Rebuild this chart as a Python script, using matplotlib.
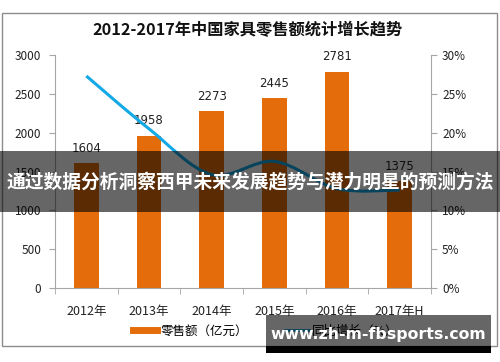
import matplotlib
matplotlib.use("Agg")
import matplotlib.pyplot as plt
import numpy as np
from matplotlib.path import Path
from matplotlib.patches import PathPatch, Rectangle
from matplotlib.lines import Line2D
from matplotlib.ticker import FixedLocator, PercentFormatter

plt.rcParams['font.family'] = ['Noto Sans CJK SC', 'DejaVu Sans']

# data
years = ['2012年', '2013年', '2014年', '2015年', '2016年', '2017年H']
retail_sales = [1604, 1958, 2273, 2445, 2781, 1375]          # 亿元
growth_rate = [27.3, 20.5, 14.6, 16.3, 12.8, 12.6]            # %

title = '2012-2017年中国家具零售额统计增长趋势'
banner_text = '通过数据分析洞察西甲未来发展趋势与潜力明星的预测方法'
site_text = 'www.zh-m-fbsports.com'

bar_color = '#E46C0A'
line_color = '#12A9E6'
axis_gray = '#A6A6A6'

fig = plt.figure(figsize=(5, 3.62), dpi=100)
fig.patch.set_facecolor('white')

# outer chart frame
fig.patches.append(Rectangle((0.004, 1 - 346 / 362), 0.99, (346 - 13) / 362,
                             transform=fig.transFigure, fill=False,
                             edgecolor='#8C8C8C', linewidth=1.0, zorder=0))

ax = fig.add_axes([0.11, 0.2044, 0.752, 0.6436])
x = np.arange(len(years))
bars = ax.bar(x, retail_sales, width=0.39, color=bar_color, zorder=2)
for xi, v in zip(x, retail_sales):
    ax.text(xi, v + 110, str(v), ha='center', va='bottom', fontsize=8.5,
            color='#222222', family='DejaVu Sans')

ax.set_xlim(-0.5, 5.5)
ax.set_ylim(0, 3000)
ax.set_yticks(range(0, 3001, 500))
ax.set_xticks(x)
ax.set_xticklabels(years, fontsize=9, color='#222222')
ax.xaxis.set_minor_locator(FixedLocator(np.arange(-0.5, 6, 1)))
ax.tick_params(axis='x', which='major', length=0, pad=12)
ax.tick_params(axis='x', which='minor', length=4, color=axis_gray, direction='out')
ax.tick_params(axis='y', length=4, color=axis_gray, labelsize=8.5,
               labelcolor='#222222', pad=6)
for s in ['top', 'right']:
    ax.spines[s].set_visible(False)
for s in ['left', 'bottom']:
    ax.spines[s].set_color(axis_gray)

ax2 = ax.twinx()
ax2.set_ylim(0, 30)
ax2.set_yticks(range(0, 31, 5))
ax2.yaxis.set_major_formatter(PercentFormatter(decimals=0))
ax2.tick_params(axis='y', length=4, color=axis_gray, labelsize=8.5,
                labelcolor='#222222', pad=4)
for s in ['top', 'left', 'bottom']:
    ax2.spines[s].set_visible(False)
ax2.spines['right'].set_color(axis_gray)

# smoothed growth line (Catmull-Rom as cubic Bezier segments)
pts = np.column_stack([x, growth_rate]).astype(float)
ext = np.vstack([pts[0], pts, pts[-1]])
verts = [tuple(pts[0])]
codes = [Path.MOVETO]
for i in range(len(pts) - 1):
    p0, p1, p2, p3 = ext[i], ext[i + 1], ext[i + 2], ext[i + 3]
    c1 = p1 + (p2 - p0) / 6
    c2 = p2 - (p3 - p1) / 6
    verts += [tuple(c1), tuple(c2), tuple(p2)]
    codes += [Path.CURVE4] * 3
ax2.add_patch(PathPatch(Path(verts, codes), fill=False, edgecolor=line_color,
                        linewidth=2.2, zorder=3))

fig.text(0.495, 1 - 30 / 362, title, ha='center', va='center', fontsize=11.7,
         fontweight='bold', color='#111111')

# legend
handles = [Line2D([], [], color=bar_color, linewidth=5),
           Line2D([], [], color=line_color, linewidth=2)]
fig.legend(handles, ['零售额（亿元）', '同比增长（%）'], loc='center',
           bbox_to_anchor=(0.532, 1 - 331 / 362), ncol=2, frameon=False,
           fontsize=9, handlelength=1.9, columnspacing=3.0, handletextpad=0.25)

# overlay banner across the middle
fig.patches.append(Rectangle((0, 1 - 212 / 362), 1, 61 / 362,
                             transform=fig.transFigure, facecolor='black',
                             alpha=0.6, zorder=10))
fig.text(0.5, 1 - 182 / 362, banner_text, ha='center', va='center',
         fontsize=13.5, fontweight='bold', color='white', zorder=11)

# site banner bottom right
fig.patches.append(Rectangle((0.532, 1 - 346 / 362), 0.45, 31 / 362,
                             transform=fig.transFigure, facecolor='black',
                             alpha=0.6, zorder=10))
fig.patches.append(Rectangle((0.532, 1 - 353 / 362), 0.45, 7 / 362,
                             transform=fig.transFigure, facecolor='black',
                             zorder=10))
fig.text(0.757, 1 - 334 / 362, site_text, ha='center', va='center',
         fontsize=11.3, fontweight='bold', color='white', zorder=11,
         family='DejaVu Sans')

fig.savefig('out.png', dpi=100)
